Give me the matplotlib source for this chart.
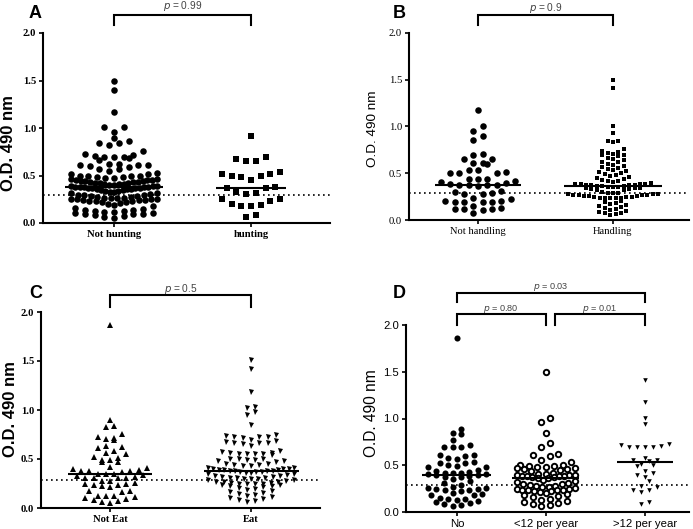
import matplotlib
matplotlib.use('Agg')
import matplotlib.pyplot as plt
import matplotlib.transforms as mtrans
import numpy as np

# ---- data (O.D. 490 nm values) ----
not_hunting = [1.50, 1.40, 1.17, 1.01, 1.01, 0.96,
               0.89, 0.86, 0.84, 0.84, 0.82,
               0.76, 0.73, 0.72, 0.71, 0.70, 0.70, 0.70, 0.68, 0.66,
               0.62, 0.62, 0.61, 0.61, 0.61, 0.60, 0.59,
               0.57, 0.57, 0.55, 0.53, 0.52, 0.52, 0.50, 0.50, 0.50,
               0.49, 0.48, 0.48, 0.47, 0.47, 0.46, 0.46, 0.45, 0.45, 0.45, 0.44,
               0.44, 0.44, 0.43, 0.43, 0.43, 0.42, 0.42, 0.42, 0.41, 0.41, 0.41, 0.40, 0.40,
               0.39, 0.39, 0.39, 0.38, 0.38, 0.38, 0.38, 0.38, 0.37, 0.37, 0.37, 0.37,
               0.36, 0.36, 0.36, 0.35, 0.35, 0.34, 0.34,
               0.33, 0.33, 0.32, 0.32, 0.31, 0.30, 0.30, 0.29, 0.28, 0.28, 0.27,
               0.27, 0.26, 0.26, 0.26, 0.26, 0.25, 0.25, 0.25, 0.25, 0.24, 0.24, 0.24,
               0.23, 0.23, 0.23, 0.22, 0.22, 0.21, 0.20, 0.19, 0.18, 0.16, 0.15,
               0.14, 0.14, 0.13, 0.13, 0.12, 0.12, 0.11, 0.11, 0.10, 0.10, 0.09,
               0.08, 0.07, 0.06, 0.05]
hunting = [0.92, 0.70, 0.67, 0.65, 0.65, 0.54, 0.52, 0.52, 0.50, 0.49, 0.48,
           0.45, 0.38, 0.37, 0.37, 0.33, 0.32, 0.31, 0.25, 0.25, 0.23, 0.20,
           0.19, 0.18, 0.18, 0.08, 0.06]

not_handling = [1.18, 1.01, 0.955, 0.90, 0.86, 0.71, 0.70, 0.65, 0.65, 0.61,
                0.61, 0.60, 0.53, 0.53, 0.51, 0.50, 0.50, 0.50, 0.44, 0.44,
                0.44, 0.42, 0.41, 0.40, 0.38, 0.37, 0.37, 0.37, 0.37, 0.36,
                0.31, 0.30, 0.29, 0.28, 0.28, 0.24, 0.22, 0.20, 0.20, 0.19,
                0.19, 0.19, 0.19, 0.15, 0.13, 0.12, 0.12, 0.12, 0.11, 0.07]
handling = [1.50, 1.41, 1.01, 0.93, 0.85, 0.84, 0.83,
            0.76, 0.74, 0.73, 0.72, 0.71, 0.70, 0.69, 0.68, 0.66, 0.65, 0.64,
            0.62, 0.62, 0.60, 0.59, 0.58, 0.57, 0.56, 0.55,
            0.53, 0.52, 0.51, 0.50, 0.49, 0.48, 0.47, 0.46, 0.45, 0.44, 0.43,
            0.42, 0.42, 0.41, 0.40,
            0.39, 0.38, 0.38, 0.38, 0.37, 0.37, 0.37, 0.37, 0.36, 0.36, 0.36,
            0.35, 0.35, 0.35, 0.34, 0.34, 0.34, 0.33, 0.33, 0.32, 0.32,
            0.30, 0.29, 0.29, 0.29, 0.28, 0.28, 0.28, 0.27, 0.27, 0.27, 0.27,
            0.26, 0.26, 0.26, 0.25, 0.25, 0.25, 0.24, 0.24, 0.24, 0.23, 0.23,
            0.20, 0.19, 0.18, 0.17, 0.16, 0.15, 0.14, 0.13, 0.12, 0.11, 0.10,
            0.09, 0.08, 0.07, 0.06, 0.05]

not_eat = [1.87, 0.90, 0.84, 0.83, 0.76, 0.72, 0.71, 0.70, 0.69, 0.63,
           0.62, 0.61, 0.58, 0.56, 0.55, 0.52, 0.51, 0.49, 0.49, 0.47,
           0.47, 0.42, 0.41, 0.40, 0.39, 0.38, 0.38, 0.38, 0.37, 0.35,
           0.35, 0.35, 0.34, 0.33, 0.32, 0.31, 0.31, 0.31, 0.31, 0.28,
           0.28, 0.26, 0.25, 0.24, 0.23, 0.23, 0.22, 0.21, 0.17, 0.17,
           0.16, 0.12, 0.12, 0.11, 0.12, 0.10, 0.09, 0.08, 0.07, 0.06, 0.05]
eat = [1.51, 1.42, 1.18, 1.03, 1.02, 0.98, 0.95, 0.85,
       0.74, 0.73, 0.72, 0.72, 0.72, 0.71, 0.69, 0.68,
       0.67, 0.66, 0.66, 0.66, 0.65, 0.63,
       0.58, 0.57, 0.56, 0.56, 0.55, 0.55, 0.55, 0.55, 0.54,
       0.50, 0.49, 0.49, 0.48, 0.48, 0.47, 0.50, 0.50,
       0.45, 0.44, 0.43, 0.43, 0.44, 0.45,
       0.41, 0.41, 0.40, 0.40, 0.40, 0.39, 0.39, 0.39, 0.38, 0.38,
       0.38, 0.38, 0.37, 0.37, 0.37, 0.36, 0.36, 0.35, 0.35, 0.34,
       0.33, 0.33, 0.32, 0.32, 0.31, 0.31, 0.31, 0.30, 0.30, 0.30, 0.29, 0.29,
       0.28, 0.27, 0.27, 0.27, 0.26, 0.26, 0.25, 0.25, 0.24, 0.24, 0.23, 0.23,
       0.22, 0.22, 0.21, 0.20, 0.19,
       0.18, 0.17, 0.16, 0.15, 0.14, 0.13, 0.12, 0.11, 0.10,
       0.09, 0.08, 0.07, 0.06]

freq_no = [1.86, 0.89, 0.84, 0.83, 0.77, 0.72, 0.70, 0.70, 0.69, 0.61, 0.61,
           0.60, 0.58, 0.57, 0.54, 0.52, 0.52, 0.50, 0.49, 0.48, 0.48, 0.45,
           0.44, 0.43, 0.42, 0.42, 0.42, 0.41, 0.41, 0.40, 0.40, 0.39, 0.37,
           0.37, 0.35, 0.33, 0.31, 0.29,
           0.27, 0.26, 0.26, 0.25, 0.25, 0.24, 0.23, 0.22, 0.20, 0.19, 0.18,
           0.18, 0.15, 0.14, 0.14, 0.13, 0.12, 0.11, 0.10, 0.09, 0.08, 0.06]
freq_lt12 = [1.50, 1.01, 0.96, 0.85, 0.74, 0.70, 0.62, 0.61, 0.60, 0.56, 0.54,
             0.50, 0.50, 0.49, 0.49, 0.48, 0.48, 0.47, 0.47, 0.46, 0.46, 0.45, 0.44,
             0.42, 0.41, 0.41, 0.40, 0.40, 0.40, 0.39, 0.39, 0.38, 0.38, 0.37,
             0.37, 0.36, 0.36,
             0.34, 0.33, 0.32, 0.31, 0.30, 0.30, 0.29, 0.28, 0.28, 0.27, 0.27,
             0.26, 0.25, 0.25, 0.24, 0.24, 0.23, 0.23, 0.22, 0.22, 0.21, 0.20, 0.19,
             0.18, 0.17, 0.16, 0.14, 0.13, 0.12, 0.11, 0.10, 0.09, 0.08, 0.06]
freq_gt12 = [1.41, 1.18, 1.01, 0.94, 0.73, 0.72, 0.71, 0.70, 0.70, 0.69, 0.69,
             0.58, 0.56, 0.56, 0.55, 0.51, 0.50, 0.49, 0.44, 0.42, 0.40, 0.37,
             0.33, 0.28, 0.27, 0.24, 0.23, 0.21, 0.11, 0.09]

cutoff = 0.29
yticks = [0.0, 0.5, 1.0, 1.5, 2.0]


def row_x(ax, xc, vals, h, s0, wmax):
    # GraphPad-like scatter: points grouped in rows (h px tall), spread sideways,
    # lowest values in the middle of each row
    tr = ax.transData
    vals = np.asarray(vals, dtype=float)
    ypx = tr.transform(np.column_stack([np.full(len(vals), xc), vals]))[:, 1]
    x0 = tr.transform((xc, 0))[0]
    order = np.argsort(ypx, kind='stable')
    rows, cur, start = [], [], None
    for i in order:
        if cur and ypx[i] - start > h:
            rows.append(cur)
            cur = []
        if not cur:
            start = ypx[i]
        cur.append(i)
    if cur:
        rows.append(cur)
    xs = np.zeros(len(vals))
    for r in rows:
        m = len(r)
        s = s0 if m < 2 else min(s0, wmax / (m - 1))
        slots = np.arange(m) - (m - 1) / 2.0
        inner = np.argsort(np.abs(slots), kind='stable')
        for k, j in zip(inner, r):
            xs[j] = slots[k] * s
    return tr.inverted().transform(np.column_stack([x0 + xs, ypx]))[:, 0]


def group(ax, xc, vals, marker, ms, h, s0, wmax, mfc='black', mew=0.0):
    xd = row_x(ax, xc, vals, h, s0, wmax)
    ax.plot(xd, vals, linestyle='none', marker=marker, markersize=ms,
            markerfacecolor=mfc, markeredgecolor='black', markeredgewidth=mew,
            zorder=3)
    half = np.max(np.abs(xd - xc))
    px = ax.transData.inverted().transform([(0, 0), (ms * 1.39 * 0.9, 0)])
    half += abs(px[1][0] - px[0][0])
    ax.plot([xc - half, xc + half], [np.median(vals)] * 2, color='black',
            lw=1.5, zorder=4, solid_capstyle='butt')


def bracket(ax, x1, x2, ytop, yleg, text, ty, fs):
    tr = mtrans.blended_transform_factory(ax.transData, ax.transAxes)
    ax.plot([x1, x1, x2, x2], [yleg, ytop, ytop, yleg], color='black', lw=1.5,
            transform=tr, clip_on=False, solid_joinstyle='miter')
    ax.text((x1 + x2) / 2, ty, r'$\it{p}$' + text, transform=tr, ha='center',
            va='center', fontsize=fs, color='#444444', family='Liberation Sans')


def style(ax, xlim, pos, labels, serif, bold_ticks, lab_fs, lab_bold, lab_xy):
    ax.set_xlim(*xlim)
    ax.set_ylim(0, 2.0)
    for s in ['top', 'right']:
        ax.spines[s].set_visible(False)
    for s in ['left', 'bottom']:
        ax.spines[s].set_linewidth(1.5)
    ax.set_yticks(yticks)
    ax.set_xticks(pos)
    fam = 'Liberation Serif' if serif else 'Liberation Sans'
    wt = 'bold' if bold_ticks else 'normal'
    fs = 7.7 if serif else 8.1
    ax.set_yticklabels(['%.1f' % t for t in yticks], family=fam, weight=wt, fontsize=fs)
    ax.set_xticklabels(labels, family=fam, weight=wt, fontsize=7.6 if serif else 8.2)
    ax.tick_params(axis='both', direction='out', length=3, width=1.2, pad=2)
    ax.axhline(cutoff, color='black', lw=1.2, linestyle=(0, (1, 2)), zorder=2)
    ax.set_ylabel('O.D. 490 nm', family='Liberation Sans', fontsize=lab_fs,
                  weight='bold' if lab_bold else 'normal')
    ax.yaxis.set_label_coords(*lab_xy)


fig = plt.figure(figsize=(6.93, 5.29), dpi=100)
W, H = 693.0, 529.0


def axes_px(l, r, top, bot):
    return fig.add_axes([l / W, 1 - bot / H, (r - l) / W, (bot - top) / H])


# panel A
axA = axes_px(43, 330, 33, 223)
style(axA, (-0.518, 1.577), [0, 1], ['Not hunting', 'hunting'], True, True, 12, True, (-0.095, 0.42))
group(axA, 0, not_hunting, 'o', 4.7, 6.0, 9.7, 86)
group(axA, 1, hunting, 's', 4.4, 9.5, 9.7, 60)
bracket(axA, 0, 1, 1.095, 1.042, ' = 0.99', 1.14, 7.3)

# panel B
axB = axes_px(409, 689, 33, 220)
style(axB, (-0.511, 1.563), [0, 1], ['Not handling', 'Handling'], True, False, 9.7, False, (-0.107, 0.49))
group(axB, 0, not_handling, 'o', 4.7, 7.0, 9.3, 85)
group(axB, 1, handling, 's', 2.9, 5.0, 5.4, 90)
bracket(axB, 0, 1, 1.096, 1.043, ' = 0.9', 1.135, 7.3)

# panel C
axC = axes_px(41, 320, 312, 508)
style(axC, (-0.489, 1.489), [0, 1], ['Not Eat', 'Eat'], True, True, 12, True, (-0.084, 0.505))
group(axC, 0, not_eat, '^', 4.0, 6.0, 8.2, 82)
group(axC, 1, eat, 'v', 3.6, 5.5, 8.3, 86)
bracket(axC, 0, 1, 1.087, 1.026, ' = 0.5', 1.118, 7.3)

# panel D
d_pos = [0, 0.94, 1.99]
axD = axes_px(406, 689, 325, 512)
style(axD, (-0.54, 2.46), d_pos, ['No', '<12 per year', '>12 per year'], False, False, 11.2, False, (-0.095, 0.53))
group(axD, d_pos[0], freq_no, 'o', 4.4, 6.0, 8.5, 58)
group(axD, d_pos[1], freq_lt12, 'o', 3.9, 6.0, 8.5, 58, mfc='white', mew=1.4)
group(axD, d_pos[2], freq_gt12, 'v', 3.3, 6.0, 8.0, 49)
bracket(axD, d_pos[0], d_pos[2], 1.171, 1.123, ' = 0.03', 1.205, 6.6)
bracket(axD, d_pos[0], d_pos[1], 1.059, 1.0, ' = 0.80', 1.085, 6.6)
bracket(axD, d_pos[1] + 0.095, d_pos[2], 1.059, 1.0, ' = 0.01', 1.085, 6.6)

for letter, x, y in [('A', 35, 13), ('B', 399, 13), ('C', 36, 293), ('D', 399, 293)]:
    fig.text(x / W, 1 - y / H, letter, ha='center', va='center', fontsize=13,
             weight='bold', family='Liberation Sans')

fig.savefig('out.png', dpi=100)
